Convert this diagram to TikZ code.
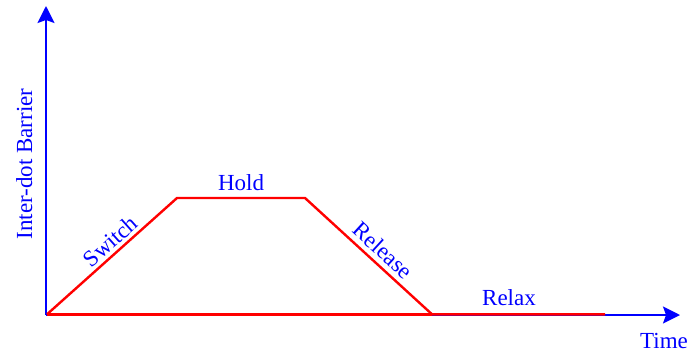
\documentclass[tikz,border=0pt]{standalone}
\usepackage{fontspec}
\setmainfont{Liberation Serif}
\usetikzlibrary{arrows.meta}
\begin{document}
\begin{tikzpicture}[x=1pt,y=-1pt,
  axis/.style={draw=blue,line width=2pt,-{Stealth[length=17pt,width=17pt,inset=3pt]}},
  profile/.style={draw=red,line width=2.4pt,line join=miter},
  lbl/.style={text=blue,font=\fontsize{23}{27}\selectfont,inner sep=2pt}]
  \useasboundingbox (0,0) rectangle (692,354);
  % axes
  \coordinate (O) at (46,315);
  \coordinate (Ytip) at (46,6);
  \coordinate (Xtip) at (680,315);
  \draw[axis] (O) -- (Ytip);
  \draw[axis] (O) -- (Xtip);
  % barrier profile
  \coordinate (P0) at (47,314.3);
  \coordinate (P1) at (177,198);
  \coordinate (P2) at (305,198);
  \coordinate (P3) at (432,314.3);
  \coordinate (P4) at (605,314.3);
  \draw[profile] (P0) -- node[lbl,sloped,above,pos=0.55,yshift=1pt] (sw) {Switch} (P1)
    -- node[lbl,above,yshift=4.5pt] (hd) {Hold} (P2)
    -- node[lbl,sloped,above,pos=0.54,yshift=3pt] (rl) {Release} (P3)
    -- (P4);
  \draw[profile] (P0) -- (P3);
  \node[lbl,anchor=base] (rx) at (509,305) {Relax};
  \node[lbl,anchor=base] (tm) at (664,348) {Time};
  \node[lbl,rotate=90,anchor=base] (yl) at (32,164) {Inter-dot Barrier};
\end{tikzpicture}
\end{document}
